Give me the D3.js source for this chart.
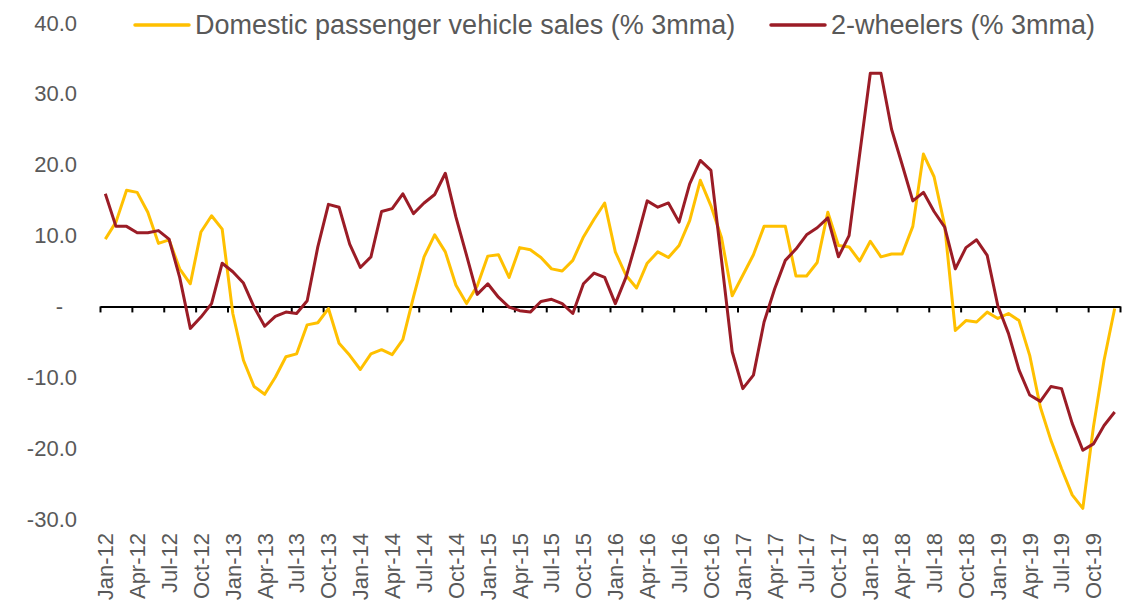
<!DOCTYPE html>
<html>
<head>
<meta charset="utf-8">
<script src="https://cdn.jsdelivr.net/npm/d3@7"></script>
<style>
    body { margin: 0; background: #fff; }
    svg text { font-family: "Liberation Sans", Arial, sans-serif; fill: #595959; }
</style>
</head>
<body>
<div class="chart"></div>
<script>
// months Jan-12 .. Dec-19
var monthNames = ['Jan', 'Feb', 'Mar', 'Apr', 'May', 'Jun', 'Jul', 'Aug', 'Sep', 'Oct', 'Nov', 'Dec'];
var years = ['12', '13', '14', '15', '16', '17', '18', '19'];

var seriesNames = ['Domestic passenger vehicle sales (% 3mma)', '2-wheelers (% 3mma)'];
var seriesColors = ['#FFC000', '#9B1C26'];

var passengerVehicles = [
    9.5, 11.9, 16.4, 16.1, 13.3, 8.9, 9.4, 5.3, 3.2, 10.5, 12.8, 10.9,
    -1.0, -7.6, -11.3, -12.4, -10.0, -7.1, -6.7, -2.6, -2.3, -0.3, -5.2, -6.9,
    -8.9, -6.7, -6.1, -6.8, -4.7, 1.3, 7.0, 10.1, 7.7, 3.0, 0.4, 2.9,
    7.1, 7.3, 4.1, 8.3, 8.0, 6.9, 5.3, 5.0, 6.5, 9.8, 12.3, 14.6,
    7.7, 4.4, 2.6, 6.1, 7.7, 6.9, 8.6, 12.1, 17.8, 14.2, 9.7, 1.5,
    4.4, 7.3, 11.3, 11.3, 11.3, 4.3, 4.3, 6.2, 13.3, 8.6, 8.4, 6.4,
    9.2, 7.0, 7.4, 7.4, 11.3, 21.5, 18.3, 11.4, -3.4, -2.0, -2.2, -0.8,
    -1.7, -1.0, -2.0, -6.9, -14.2, -18.9, -22.9, -26.6, -28.5, -17.0, -7.6, -0.3
];

var twoWheelers = [
    15.9, 11.3, 11.3, 10.4, 10.4, 10.7, 9.5, 4.1, -3.1, -1.5, 0.4, 6.1,
    4.9, 3.3, -0.1, -2.8, -1.4, -0.8, -1.0, 0.8, 8.4, 14.4, 14.0, 8.8,
    5.5, 7.0, 13.4, 13.8, 15.9, 13.1, 14.6, 15.8, 18.8, 12.6, 7.2, 1.7,
    3.2, 1.3, -0.1, -0.6, -0.8, 0.7, 1.0, 0.4, -1.0, 3.2, 4.7, 4.1,
    0.4, 4.1, 9.3, 14.9, 14.0, 14.6, 11.9, 17.3, 20.6, 19.2, 6.5, -6.4,
    -11.6, -9.7, -2.2, 2.5, 6.5, 8.1, 10.1, 11.1, 12.5, 7.0, 10.0, 21.5,
    32.9, 32.9, 25.0, 20.0, 14.9, 16.1, 13.4, 11.2, 5.3, 8.3, 9.4, 7.2,
    0.1, -3.8, -9.0, -12.5, -13.4, -11.3, -11.6, -16.5, -20.3, -19.4, -16.8, -14.9
];

var yTicks = [-30, -20, -10, 0, 10, 20, 30, 40];

var categories = [];
years.forEach(function (y) {
    monthNames.forEach(function (m) {
        categories.push(m + '-' + y);
    });
});

draw();

function draw() {
    var width = 1130;
    var height = 604;
    var left = 100, right = 1120, top = 23, bottom = 519;

    var svg = d3.select('.chart')
        .append('svg')
        .attr('width', width)
        .attr('height', height);

    var x = d3.scaleBand()
        .domain(categories)
        .range([left, right])
        .paddingInner(0)
        .paddingOuter(0);

    // boundary scale for tick marks between categories
    var xEdge = d3.scaleLinear()
        .domain([0, categories.length])
        .range([left, right]);

    var y = d3.scaleLinear()
        .domain([-30, 40])
        .range([bottom, top]);

    // y axis labels (plain hyphen for negatives, dash for zero)
    var yAxis = svg.append('g')
        .attr('transform', 'translate(' + 77 + ',0)')
        .call(d3.axisLeft(y)
            .tickValues(yTicks)
            .tickSize(0)
            .tickFormat(function (d) {
                if (d === 0) return '-';
                return (d < 0 ? '-' : '') + Math.abs(d).toFixed(1);
            }));
    yAxis.select('.domain').remove();
    yAxis.selectAll('text')
        .attr('x', function (d) { return d === 0 ? -14 : 0; })
        .style('font-size', '22px')
        .style('fill', '#595959');

    // x axis line at zero with tick marks between categories
    var xAxis = svg.append('g')
        .attr('transform', 'translate(0,' + y(0) + ')')
        .call(d3.axisBottom(xEdge)
            .tickValues(d3.range(0, categories.length + 1, 3))
            .tickSize(6)
            .tickSizeOuter(0)
            .tickFormat(''));
    xAxis.select('.domain').attr('stroke', '#000').attr('stroke-width', 2);
    xAxis.selectAll('.tick line').attr('stroke', '#000').attr('stroke-width', 2);

    // x labels below plot
    var labelAxis = svg.append('g')
        .attr('transform', 'translate(0,' + 533 + ')')
        .call(d3.axisBottom(x)
            .tickValues(categories.filter(function (d, i) { return i % 3 === 0; }))
            .tickSize(0));
    labelAxis.select('.domain').remove();
    labelAxis.selectAll('text')
        .attr('transform', 'rotate(-90)')
        .attr('x', 0)
        .attr('y', 0)
        .attr('dy', '0.36em')
        .attr('text-anchor', 'end')
        .style('font-size', '22px')
        .style('fill', '#595959');

    var line = d3.line()
        .x(function (d, i) { return x(categories[i]) + x.bandwidth() / 2; })
        .y(function (d) { return y(d); });

    [passengerVehicles, twoWheelers].forEach(function (series, k) {
        svg.append('path')
            .datum(series)
            .attr('fill', 'none')
            .attr('stroke', seriesColors[k])
            .attr('stroke-width', 3)
            .attr('stroke-linejoin', 'round')
            .attr('d', line);
    });

    // legend
    var legendX = [135, 771];
    var legend = svg.append('g');
    seriesNames.forEach(function (name, k) {
        legend.append('line')
            .attr('x1', legendX[k])
            .attr('x2', legendX[k] + 54)
            .attr('y1', 25)
            .attr('y2', 25)
            .attr('stroke', seriesColors[k])
            .attr('stroke-width', 3.5)
            .attr('stroke-linecap', 'round');
        legend.append('text')
            .attr('x', legendX[k] + 60)
            .attr('y', 25)
            .attr('dy', '0.35em')
            .style('font-size', '27px')
            .text(name);
    });
}
</script>
</body>
</html>
